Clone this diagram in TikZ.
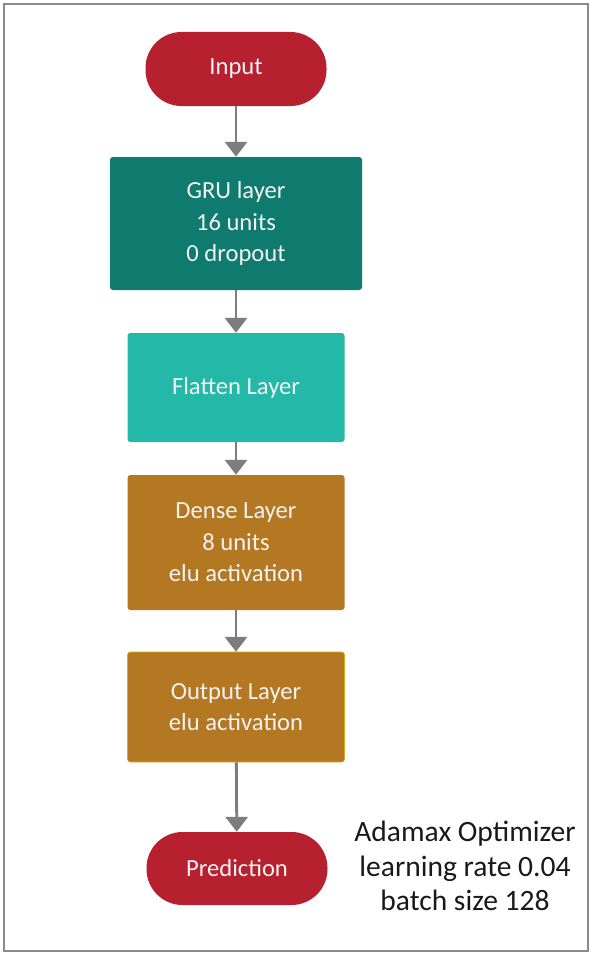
\documentclass[tikz,border=0pt]{standalone}
\usepackage{fontspec}
\setmainfont{Carlito}
\usepackage{tikz}
\usetikzlibrary{positioning, arrows.meta}
\definecolor{NNRed}{RGB}{183,32,46}
\definecolor{NNTeal}{RGB}{14,123,110}
\definecolor{NNAqua}{RGB}{36,184,168}
\definecolor{NNOchre}{RGB}{181,120,34}
\definecolor{NNGray}{RGB}{125,125,125}

\begin{document}
\begin{tikzpicture}[
      terminal/.style={rectangle, rounded corners=0.9cm, minimum width=4.525cm,
                       minimum height=1.85cm, fill=NNRed, text=white!95!black},
      layer/.style={rectangle, rounded corners=2pt, minimum width=5.425cm,
                    align=center, text=white!95!black},
      note/.style={align=center, text=black!90, font=\fontsize{21}{24.5}\selectfont},
      flow/.style={draw=NNGray, line width=2pt,
                   -{Triangle[length=0.37cm, width=0.55cm]}}
    ]
    \fontsize{17.5}{22.4}\selectfont
    \useasboundingbox (0,0) rectangle (14.8,-23.875);
    % outer frame
    \draw[NNGray!90, line width=1.5pt] (0.1,-0.1) rectangle (14.7,-23.775);

    % network stack
    \node[terminal] (input) at (5.9,-1.725) {Input};
    \node[layer, fill=NNTeal, minimum width=6.3cm, minimum height=3.325cm]
          (gru) at (5.9,-5.5875) {GRU layer\\16 units\\0 dropout};
    \node[layer, fill=NNAqua, minimum height=2.725cm]
          (flatten) at (5.9,-9.6875) {Flatten Layer};
    \node[layer, fill=NNOchre, minimum height=3.375cm]
          (dense) at (5.9,-13.5625) {Dense Layer\\8 units\\elu activation};
    \node[layer, fill=NNOchre, draw=NNOchre!60!yellow, minimum height=2.75cm]
          (output) at (5.9,-17.675) {Output Layer\\elu activation};
    \node[terminal, minimum height=1.825cm] (pred) at (5.925,-21.7125) {Prediction};

    % training settings
    \node[note] (opt) at (11.625,-21.65) {Adamax Optimizer\\learning rate 0.04\\batch size 128};

    % connectors
    \draw[flow] (input) -- (gru);
    \draw[flow] (gru) -- (flatten);
    \draw[flow] (flatten) -- (dense);
    \draw[flow] (dense) -- (output);
    \draw[flow] (output) -- (pred);
  \end{tikzpicture}
\end{document}
